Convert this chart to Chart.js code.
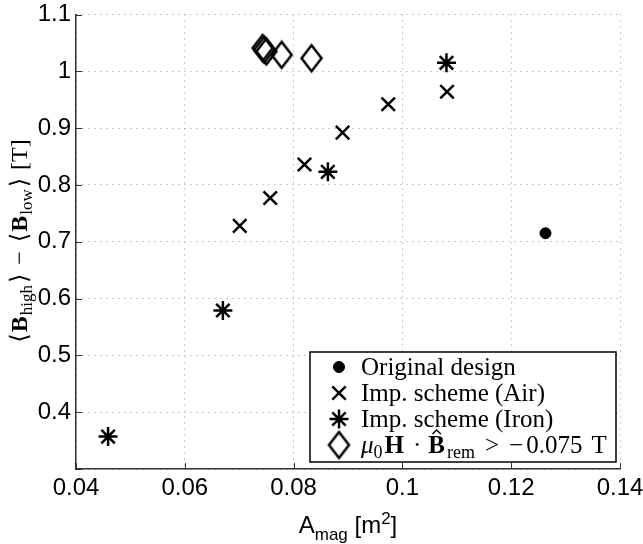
<!DOCTYPE html>
<html>
<head>
<meta charset="utf-8">
<script src="https://cdn.jsdelivr.net/npm/chart.js@4.4.1/dist/chart.umd.min.js"></script>
<style>
  html, body { margin: 0; padding: 0; background: #fff; }
  #wrap { width: 643px; height: 544px; }
</style>
</head>
<body>
<div id="wrap"><canvas id="chart" width="643" height="544"></canvas></div>
<script>
(function(){
  // axis ticks
  const xTicks = [0.04, 0.06, 0.08, 0.1, 0.12, 0.14];
  const xTickLabels = ['0.04', '0.06', '0.08', '0.1', '0.12', '0.14'];
  const yTicks = [0.3, 0.4, 0.5, 0.6, 0.7, 0.8, 0.9, 1.0, 1.1];
  const yTickLabels = ['', '0.4', '0.5', '0.6', '0.7', '0.8', '0.9', '1', '1.1'];

  // series
  const origX = [0.1263];
  const origY = [0.715];
  const airX = [0.0701, 0.0757, 0.0820, 0.0890, 0.0974, 0.1082];
  const airY = [0.728, 0.777, 0.836, 0.892, 0.942, 0.964];
  const ironX = [0.0459, 0.0670, 0.0863, 0.1081];
  const ironY = [0.357, 0.579, 0.823, 1.015];
  const limX = [0.0743, 0.0746, 0.0750, 0.0778, 0.0833];
  const limY = [1.041, 1.038, 1.035, 1.029, 1.023];

  const seriesNames = ['Original design', 'Imp. scheme (Air)', 'Imp. scheme (Iron)', 'μ0H · B̂rem > −0.075 T'];

  const SANS = '"Liberation Sans", Arial, Helvetica, sans-serif';
  const SERIF = '"Liberation Serif", "DejaVu Serif", "DejaVu Sans", serif';
  const AXIS_COLOR = '#333';

  function pts(xs, ys){ return xs.map((x, i) => ({x, y: ys[i]})); }

  // tall diamond marker like MATLAB's 'd'
  function makeDiamond(w, h, lw){
    const c = document.createElement('canvas');
    c.width = Math.ceil(w + lw * 2);
    c.height = Math.ceil(h + lw * 2);
    const g = c.getContext('2d');
    const cx = c.width / 2, cy = c.height / 2;
    g.strokeStyle = '#000';
    g.lineWidth = lw;
    g.beginPath();
    g.moveTo(cx, cy - h / 2);
    g.lineTo(cx + w / 2, cy);
    g.lineTo(cx, cy + h / 2);
    g.lineTo(cx - w / 2, cy);
    g.closePath();
    g.stroke();
    return c;
  }
  const diamond = makeDiamond(20, 26, 2.5);

  // draw a list of text pieces one after another (sub/superscripts, bold, hats)
  function drawRich(ctx, segs, x, y, align){
    let total = 0;
    segs.forEach(s => {
      ctx.font = s.font;
      s._tw = ctx.measureText(s.t).width;
      s._w = s._tw + (s.gl || 0) + (s.gr || 0);
      total += s._w;
    });
    let cx = align === 'center' ? x - total / 2 : x;
    segs.forEach(s => {
      ctx.font = s.font;
      const tx = cx + (s.gl || 0);
      ctx.fillText(s.t, tx, y + (s.dy || 0));
      if(s.hat){
        const top = y + (s.dy || 0) - s.hat;
        ctx.save();
        ctx.lineWidth = 1.4;
        ctx.beginPath();
        ctx.moveTo(tx + s._tw * 0.25, top - 2);
        ctx.lineTo(tx + s._tw * 0.5, top - 6);
        ctx.lineTo(tx + s._tw * 0.75, top - 2);
        ctx.stroke();
        ctx.restore();
      }
      cx += s._w;
    });
    return total;
  }

  const datasets = [
    {
      label: seriesNames[0],
      data: pts(origX, origY),
      pointStyle: 'circle',
      pointRadius: 5.5,
      pointBackgroundColor: '#000',
      pointBorderColor: '#000',
      pointBorderWidth: 1
    },
    {
      label: seriesNames[1],
      data: pts(airX, airY),
      pointStyle: 'crossRot',
      pointRadius: 9.5,
      pointBorderColor: '#000',
      pointBorderWidth: 2.5
    },
    {
      label: seriesNames[2],
      data: pts(ironX, ironY),
      pointStyle: 'star',
      pointRadius: 9.5,
      pointBorderColor: '#000',
      pointBorderWidth: 2.5
    },
    {
      label: seriesNames[3],
      data: pts(limX, limY),
      pointStyle: diamond,
      pointRadius: 12,
      pointBorderColor: '#000',
      pointBorderWidth: 2.5
    }
  ];
  datasets.forEach(d => { d.showLine = false; d.backgroundColor = '#000'; d.borderColor = '#000'; });

  const decorPlugin = {
    id: 'decor',
    afterDraw(chart){
      const ctx = chart.ctx;
      const area = chart.chartArea;
      const xs = chart.scales.x, ys = chart.scales.y;

      // inward tick marks
      ctx.save();
      ctx.strokeStyle = AXIS_COLOR;
      ctx.lineWidth = 1;
      ctx.beginPath();
      xTicks.forEach(v => {
        const px = Math.round(xs.getPixelForValue(v)) + 0.5;
        ctx.moveTo(px, area.bottom);
        ctx.lineTo(px, area.bottom - 6);
      });
      yTicks.forEach(v => {
        const py = Math.round(ys.getPixelForValue(v)) + 0.5;
        ctx.moveTo(area.left, py);
        ctx.lineTo(area.left + 6, py);
      });
      ctx.stroke();
      ctx.restore();

      ctx.save();
      ctx.fillStyle = '#000';
      ctx.strokeStyle = '#000';
      ctx.textBaseline = 'alphabetic';
      ctx.textAlign = 'left';

      // x title: A_mag [m^2]
      const ax = 24, as = 17;
      drawRich(ctx, [
        {t: 'A', font: ax + 'px ' + SANS},
        {t: 'mag', font: as + 'px ' + SANS, dy: 7},
        {t: ' [m', font: ax + 'px ' + SANS},
        {t: '2', font: as + 'px ' + SANS, dy: -9},
        {t: ']', font: ax + 'px ' + SANS}
      ], (area.left + area.right) / 2, 533, 'center');

      // y title: <B_high> - <B_low> [T]
      ctx.save();
      ctx.translate(27, 241);
      ctx.rotate(-Math.PI / 2);
      const yf = 24, ysub = 17;
      const reg = yf + 'px ' + SERIF, bold = 'bold ' + yf + 'px ' + SERIF, sub = ysub + 'px ' + SERIF;
      drawRich(ctx, [
        {t: '⟨', font: reg, gr: 1},
        {t: 'B', font: bold, gr: 1},
        {t: 'high', font: sub, dy: 5, gr: 1},
        {t: '⟩', font: reg, gl: 1},
        {t: '−', font: reg, gl: 9, gr: 9},
        {t: '⟨', font: reg, gr: 1},
        {t: 'B', font: bold, gr: 1},
        {t: 'low', font: sub, dy: 5, gr: 1},
        {t: '⟩', font: reg, gl: 1},
        {t: '[T]', font: reg, gl: 8}
      ], 0, 0, 'center');
      ctx.restore();

      // legend box
      const box = {l: 310, t: 352, r: 616, b: 462};
      ctx.fillStyle = '#fff';
      ctx.fillRect(box.l, box.t, box.r - box.l, box.b - box.t);
      ctx.lineWidth = 1.5;
      ctx.strokeStyle = '#000';
      ctx.strokeRect(box.l, box.t, box.r - box.l, box.b - box.t);

      const lf = 25, lsub = 18;
      const lreg = lf + 'px ' + SERIF, lbold = 'bold ' + lf + 'px ' + SERIF;
      const lit = 'italic ' + lf + 'px ' + SERIF, lsm = lsub + 'px ' + SERIF;
      const rows = [
        [{t: seriesNames[0], font: lreg}],
        [{t: seriesNames[1], font: lreg}],
        [{t: seriesNames[2], font: lreg}],
        [
          {t: 'μ', font: lit},
          {t: '0', font: lsm, dy: 5, gr: 2},
          {t: 'H', font: lbold, gr: 2},
          {t: '·', font: lreg, gl: 7, gr: 7},
          {t: 'B', font: lbold, hat: 17, gr: 2},
          {t: 'rem', font: lsm, dy: 5},
          {t: '>', font: lreg, gl: 10, gr: 10},
          {t: '−', font: lreg, gr: 3},
          {t: '0.075', font: lreg},
          {t: 'T', font: lreg, gl: 9}
        ]
      ];
      const markerX = 339, textX = 361, rowY0 = 367, rowGap = 26;
      chart.data.datasets.forEach((ds, i) => {
        const cy = rowY0 + i * rowGap;
        ctx.fillStyle = '#000';
        ctx.strokeStyle = '#000';
        ctx.lineWidth = ds.pointBorderWidth;
        Chart.helpers.drawPoint(ctx, {
          pointStyle: ds.pointStyle,
          radius: ds.pointRadius,
          rotation: 0,
          borderWidth: ds.pointBorderWidth
        }, markerX, cy);
        ctx.fillStyle = '#000';
        drawRich(ctx, rows[i], textX, cy + 8, 'left');
      });
      ctx.restore();
    }
  };

  function zeroPad(s){ s.paddingLeft = 0; s.paddingRight = 0; s.paddingTop = 0; s.paddingBottom = 0; }

  new Chart(document.getElementById('chart'), {
    type: 'scatter',
    data: { datasets },
    options: {
      responsive: false,
      animation: false,
      events: [],
      layout: { padding: { top: 13, right: 23, left: 0, bottom: 0 } },
      plugins: {
        legend: { display: false },
        tooltip: { enabled: false },
        title: { display: false }
      },
      scales: {
        x: {
          type: 'linear',
          min: 0.04,
          max: 0.14,
          afterBuildTicks: s => { s.ticks = xTicks.map(v => ({value: v})); },
          afterFit: s => { s.height = 75; zeroPad(s); },
          ticks: {
            color: '#000',
            font: { family: SANS, size: 24 },
            padding: 5,
            maxRotation: 0,
            autoSkip: false,
            callback: (v, i) => xTickLabels[i]
          },
          grid: { color: '#9a9a9a', lineWidth: 1, drawTicks: false },
          border: { display: true, color: AXIS_COLOR, width: 1.5, dash: [1, 5] }
        },
        y: {
          type: 'linear',
          min: 0.3,
          max: 1.1,
          afterBuildTicks: s => { s.ticks = yTicks.map(v => ({value: v})); },
          afterFit: s => { s.width = 76; zeroPad(s); },
          ticks: {
            color: '#000',
            font: { family: SANS, size: 24 },
            padding: 5,
            autoSkip: false,
            callback: (v, i) => yTickLabels[i]
          },
          grid: { color: '#9a9a9a', lineWidth: 1, drawTicks: false },
          border: { display: true, color: AXIS_COLOR, width: 1.5, dash: [1, 5] }
        }
      }
    },
    plugins: [decorPlugin]
  });
})();
</script>
</body>
</html>
